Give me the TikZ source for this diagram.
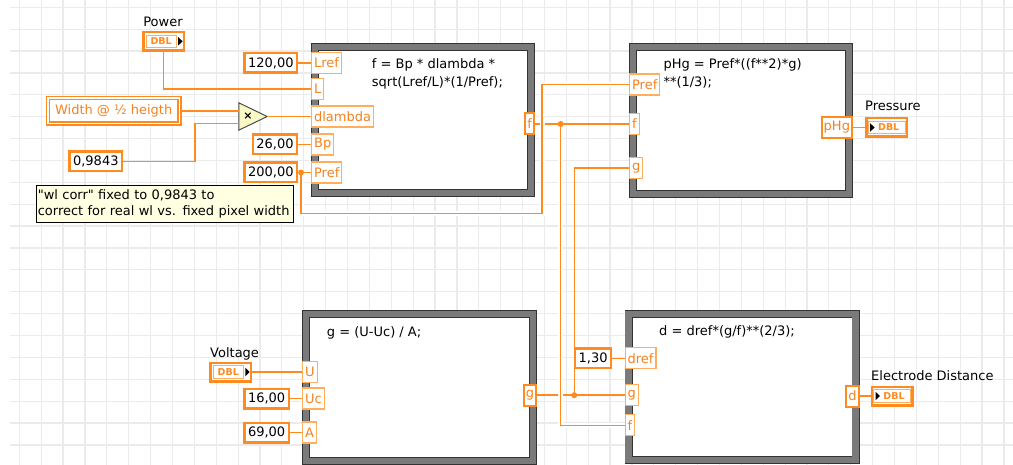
\documentclass[tikz,border=0pt]{standalone}
\usepackage{fontspec}
\setmainfont{DejaVu Sans}
\usepackage{tikz}
\definecolor{lvorange}{HTML}{FF8A1F}
\definecolor{lvlight}{HTML}{FFAE5E}
\definecolor{lvtext}{HTML}{F5821F}
\definecolor{lvgray}{HTML}{7A7A7A}
\definecolor{lvgrid}{HTML}{EBEBEB}
\definecolor{lvnote}{HTML}{FFFFE1}
\definecolor{lvmul}{HTML}{F9F9C6}

\begin{document}
\begin{tikzpicture}[x=1pt,y=-1pt,font=\fontsize{13}{16}\selectfont]

\tikzset{
fnode/.style={draw=black!80, line width=0.9pt, double=lvgray, double distance=6.2pt, fill=white, inner sep=0pt},
term/.style={draw=lvlight, line width=1.2pt, fill=white, text=lvtext, inner xsep=2.5pt, inner ysep=0pt, minimum height=21pt, anchor=west},
outterm/.style={term, draw=lvorange, line width=2pt, inner xsep=2pt, anchor=east},
cst/.style={draw=lvorange, line width=2.5pt, fill=white, inner xsep=3.5pt, inner ysep=0pt, minimum height=19.5pt, anchor=east},
eq/.style={anchor=north west, inner sep=0pt, align=left, font=\fontsize{13}{18.4}\selectfont},
lbl/.style={anchor=base west, inner sep=0pt},
dblbox/.style={draw=lvorange, line width=2.5pt, fill=white, minimum width=40.5pt, minimum height=18.5pt, inner sep=0pt},
dbltxt/.style={draw=lvlight, line width=0.8pt, text=lvorange, font=\fontsize{9.5}{10}\selectfont\bfseries, inner xsep=2pt, inner ysep=0pt, minimum height=12.5pt},
dbltri/.style={fill=black},
wire/.style={draw=lvorange, line width=1.5pt},
halo/.style={wire, preaction={draw=white, line width=5pt}},
dot/.style={circle, fill=lvorange, inner sep=0pt, minimum size=6pt}
}

\useasboundingbox (0,0) rectangle (1013,465);

% grid
\foreach \i in {0,...,45} \draw[lvgrid, line width=1.2pt] (19.3+21.88*\i,0) -- (19.3+21.88*\i,465);
\foreach \j in {0,...,20} \draw[lvgrid, line width=1.2pt] (10,7.3+21.88*\j) -- (1013,7.3+21.88*\j);

% formula nodes
\node[fnode, minimum width=216pt, minimum height=146pt] (fA) at (423,120) {};
\node[fnode, minimum width=216pt, minimum height=147pt] (fB) at (741,120.5) {};
\node[fnode, minimum width=227pt, minimum height=147pt] (fC) at (419.5,387.5) {};
\node[fnode, minimum width=227pt, minimum height=146pt] (fD) at (742,387) {};

\node[eq] (eqA) at (371.7,58.4) {f = Bp * dlambda *\\sqrt(Lref/L)*(1/Pref);};
\node[eq] (eqB) at (663.3,58.4) {pHg = Pref*((f**2)*g)\\**(1/3);};
\node[eq] (eqC) at (326.7,326) {g = (U-Uc) / A;};
\node[eq] (eqD) at (659,325.7) {d = dref*(g/f)**(2/3);};

% terminals
\node[term] (tLref) at (311,63) {Lref};
\node[term] (tL) at (311,89) {L};
\node[term] (tdl) at (311,116.5) {dlambda};
\node[term] (tBp) at (311,144.5) {Bp};
\node[term] (tPrefA) at (311,172.5) {Pref};
\node[outterm] (tfA) at (535,124) {f};

\node[term] (tPrefB) at (629,84.5) {Pref};
\node[term] (tfB) at (629,124) {f};
\node[term] (tgB) at (629,167.8) {g};
\node[outterm] (tpHg) at (853,127.5) {pHg};

\node[term] (tU) at (302,372) {U};
\node[term] (tUc) at (302,398.5) {Uc};
\node[term] (tA) at (302,432.5) {A};
\node[outterm] (tgC) at (537,395.2) {g};

\node[term] (tdref) at (624.5,358.3) {dref};
\node[term] (tgD) at (624.5,395.2) {g};
\node[term] (tfD) at (624.5,425.3) {f};
\node[outterm] (td) at (859.5,396) {d};

% constants
\node[cst] (cLref) at (298.3,63) {120,00};
\node[cst] (cBp) at (298.3,144.5) {26,00};
\node[cst] (cPref) at (298.3,172.5) {200,00};
\node[cst] (cwl) at (123.3,161.3) {0,9843};
\node[cst] (cUc) at (290,398.5) {16,00};
\node[cst] (cA) at (290,432.5) {69,00};
\node[cst] (cdref) at (612.3,358.3) {1,30};

\node[draw=lvorange, double=white, double distance=1.5pt, line width=1.5pt, fill=white, text=lvtext, minimum width=131.5pt, minimum height=25.5pt, inner sep=0pt] (wid) at (113.7,111) {Width @ ½ heigth};

% multiply
\node[minimum width=28pt, minimum height=27pt, inner sep=0pt] (mul) at (253,116.5) {};
\filldraw[fill=lvmul, draw=black!70, line width=1pt] (mul.north west) -- (mul.east) -- (mul.south west) -- cycle;
\node[inner sep=0pt, font=\fontsize{11}{11}\selectfont\bfseries] (mulx) at ([xshift=-5pt]mul.center) {×};

% comment
\node[draw=black, line width=1.2pt, fill=lvnote, anchor=north west, inner xsep=1.5pt, inner ysep=4.2pt, text width=254pt, align=left, font=\fontsize{13}{16}\selectfont] (note) at (35.7,185.3) {\textquotedbl wl corr\textquotedbl\ fixed to 0,9843 to\\correct for real wl vs. fixed pixel width};

% controls and indicators
\node[lbl, anchor=base] (lPower) at (163,26.7) {Power};
\node[dblbox] (power) at (163.7,41.3) {};
\node[dbltxt, minimum width=30pt] (powerdbl) at (161.2,41.3) {DBL};
\fill[dbltri] ([xshift=-7pt,yshift=4.2pt]power.east) -- ++(4.4,4.2) -- ++(-4.4,4.2) -- cycle;

\node[lbl] (lVolt) at (210,357) {Voltage};
\node[dblbox] (volt) at (230.8,372) {};
\node[dbltxt, minimum width=30pt] (voltdbl) at (228.3,372) {DBL};
\fill[dbltri] ([xshift=-7pt,yshift=4.2pt]volt.east) -- ++(4.4,4.2) -- ++(-4.4,4.2) -- cycle;

\node[lbl] (lPress) at (865,110.5) {Pressure};
\node[dblbox] (press) at (886.7,127.5) {};
\node[dbltxt, minimum width=36.5pt] (pressdbl) at (886.7,127.5) {\hspace*{4pt}DBL};
\fill[dbltri] ([xshift=5pt,yshift=4.2pt]press.west) -- ++(4.4,4.2) -- ++(-4.4,4.2) -- cycle;

\node[lbl] (lElec) at (871,380.5) {Electrode Distance};
\node[dblbox] (elec) at (892,396) {};
\node[dbltxt, minimum width=36.5pt] (elecdbl) at (892,396) {\hspace*{4pt}DBL};
\fill[dbltri] ([xshift=5pt,yshift=4.2pt]elec.west) -- ++(4.4,4.2) -- ++(-4.4,4.2) -- cycle;

% wires
\coordinate (jP) at (301,172.5);
\coordinate (jf) at (560.7,124);
\coordinate (jg) at (574.3,395.2);

\draw[wire] (power.south) |- (tL.west);
\draw[wire] (cLref.east) -- (tLref.west);
\draw[wire] (wid.east) -- (wid.east -| mul.west);
\draw[wire] (cwl.east) -| ([xshift=-44pt,yshift=-7pt]mul.west) -- ([yshift=-7pt]mul.west);
\draw[wire] (mul.east) -- (tdl.west);
\draw[wire] (cBp.east) -- (tBp.west);
\draw[wire] (cPref.east) -- (tPrefA.west);
\draw[wire] (tfA.east) -- (tfB.west);
\draw[halo] (jP) |- (542,213.3) |- (tPrefB.west);
\draw[wire] (tgC.east) -- (tgD.west);
\draw[halo] (jf) |- (tfD.west);
\draw[wire] (jg) |- (tgB.west);
\draw[wire] (cdref.east) -- (tdref.west);
\draw[wire] (volt.east) -- (tU.west);
\draw[wire] (cUc.east) -- (tUc.west);
\draw[wire] (cA.east) -- (tA.west);
\draw[wire] (tpHg.east) -- (press.west);
\draw[wire] (td.east) -- (elec.west);

\node[dot] (dP) at (jP) {};
\node[dot] (dF) at (jf) {};
\node[dot] (dG) at (jg) {};

\end{tikzpicture}
\end{document}
